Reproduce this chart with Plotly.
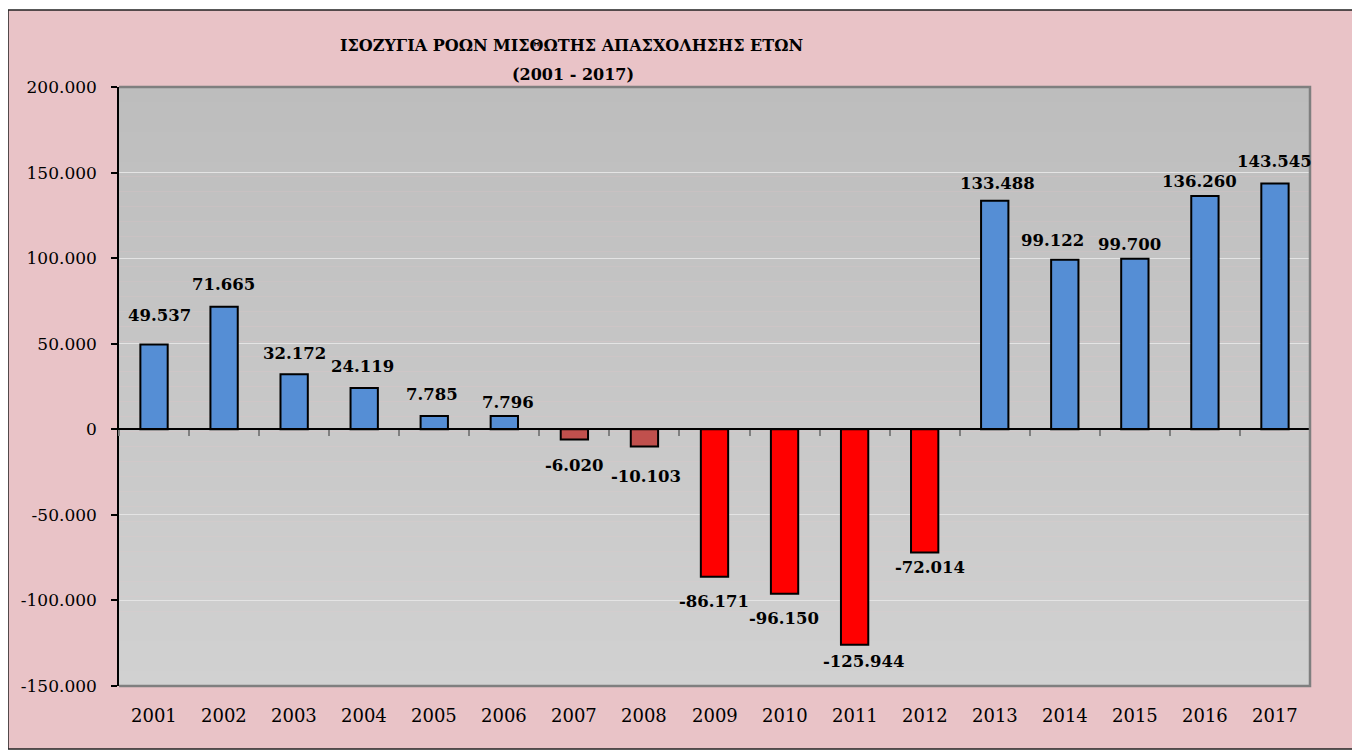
import plotly.graph_objects as go

# ---- data ----
years = ["2001", "2002", "2003", "2004", "2005", "2006", "2007", "2008", "2009",
         "2010", "2011", "2012", "2013", "2014", "2015", "2016", "2017"]
balance = [49537, 71665, 32172, 24119, 7785, 7796, -6020, -10103, -86171,
           -96150, -125944, -72014, 133488, 99122, 99700, 136260, 143545]
y_ticks = [-150000, -100000, -50000, 0, 50000, 100000, 150000, 200000]
title_line1 = "ΙΣΟΖΥΓΙΑ ΡΟΩΝ ΜΙΣΘΩΤΗΣ ΑΠΑΣΧΟΛΗΣΗΣ ΕΤΩΝ"
title_line2 = "(2001 - 2017)"

# ---- style ----
BLUE, DARKRED, RED = "#558ed5", "#c0504d", "#ff0000"
bar_colors = [BLUE] * 6 + [DARKRED] * 2 + [RED] * 4 + [BLUE] * 5
# manual label nudges (pixels) as in the original chart
label_dx = [5, -1, 0, -2, -2, 4, 0, 2, -1, -1, 9, 5, 3, -12, -5, -5, 0]
label_dy = [29, 22, 21, 22, 21, 13, -26, -30, -25, -25, -17, -15, 17, 19, 14, 15, 22]

FONT = "DejaVu Serif"
OFF = 8  # page body margin
W, H = 1360 - OFF, 751 - OFF
ML, MT = 119 - OFF, 87 - OFF
MR = W - (1310 - OFF)
MB = H - (686 - OFF)
PW, PH = W - ML - MR, H - MT - MB


def fmt(v):
    return f"{v:,}".replace(",", ".")


def px_x(p):  # page pixel -> paper fraction
    return (p - OFF - ML) / PW


def px_y(p):
    return (H - MB - (p - OFF)) / PH


fig = go.Figure()
fig.add_bar(
    x=years, y=balance,
    marker=dict(color=bar_colors, line=dict(color="black", width=2)),
    width=0.39, hoverinfo="x+y",
)

shapes = []
# pink chart area with thin black frame
shapes.append(dict(type="rect", xref="paper", yref="paper", layer="below",
                   x0=px_x(8), x1=px_x(1366), y0=px_y(749), y1=px_y(10),
                   fillcolor="#e9c3c7", line=dict(color="#222222", width=1.5)))
# gray gradient plot background
n = 40
c0, c1 = (0xbd, 0xbd, 0xbd), (0xd1, 0xd1, 0xd1)
for i in range(n):
    t = i / (n - 1)
    c = tuple(round(c0[k] + (c1[k] - c0[k]) * t) for k in range(3))
    shapes.append(dict(type="rect", xref="paper", yref="paper", layer="below",
                       x0=0, x1=1, y0=1 - (i + 1) / n, y1=1 - i / n,
                       fillcolor="rgb(%d,%d,%d)" % c, line=dict(width=0)))
# gray plot border (top, right, bottom)
shapes.append(dict(type="path", xref="paper", yref="paper", layer="above",
                   path="M 0,1 L 1,1 L 1,0 L 0,0",
                   line=dict(color="#7f7f7f", width=2.5)))

annotations = []
for i, (yr, v) in enumerate(zip(years, balance)):
    annotations.append(dict(x=i, y=v, xref="x", yref="y", text=fmt(v), showarrow=False,
                            xshift=label_dx[i], yshift=label_dy[i],
                            xanchor="center", yanchor="middle",
                            font=dict(family=FONT, size=16.5, color="black", weight="bold")))
    annotations.append(dict(x=i, y=0, xref="x", yref="paper", text=yr, showarrow=False,
                            yshift=-29, xanchor="center", yanchor="middle",
                            font=dict(family=FONT, size=18, color="black")))
annotations.append(dict(x=px_x(571), y=1, xref="paper", yref="paper", text=title_line1,
                        showarrow=False, yshift=87 - 45, xanchor="center", yanchor="middle",
                        font=dict(family=FONT, size=16, color="black", weight="bold")))
annotations.append(dict(x=px_x(573), y=1, xref="paper", yref="paper", text=title_line2,
                        showarrow=False, yshift=87 - 74, xanchor="center", yanchor="middle",
                        font=dict(family=FONT, size=16, color="black", weight="bold")))

fig.update_layout(
    width=W, height=H,
    margin=dict(l=ML, r=MR, t=MT, b=MB, autoexpand=False),
    paper_bgcolor="white", plot_bgcolor="#c8c8c8",
    showlegend=False,
    shapes=shapes, annotations=annotations,
    xaxis=dict(type="category", range=[-0.5, 16.5], anchor="free",
               position=(0 - y_ticks[0]) / (y_ticks[-1] - y_ticks[0]),
               showline=True, linecolor="black", linewidth=1.5,
               ticks="outside", tickson="boundaries", ticklen=6, tickcolor="#7f7f7f",
               tickwidth=1.5, showticklabels=False, showgrid=False, zeroline=False,
               fixedrange=True),
    yaxis=dict(range=[y_ticks[0], y_ticks[-1]], tickvals=y_ticks,
               ticktext=[fmt(v) for v in y_ticks],
               showgrid=True, gridcolor="#e4e4e4", gridwidth=1, zeroline=False,
               showline=True, linecolor="black", linewidth=1.5,
               ticks="outside", ticklen=6, tickcolor="black", tickwidth=1.5,
               ticklabelstandoff=11,
               tickfont=dict(family=FONT, size=17, color="black"), fixedrange=True),
)

fig.write_html("out.html")
